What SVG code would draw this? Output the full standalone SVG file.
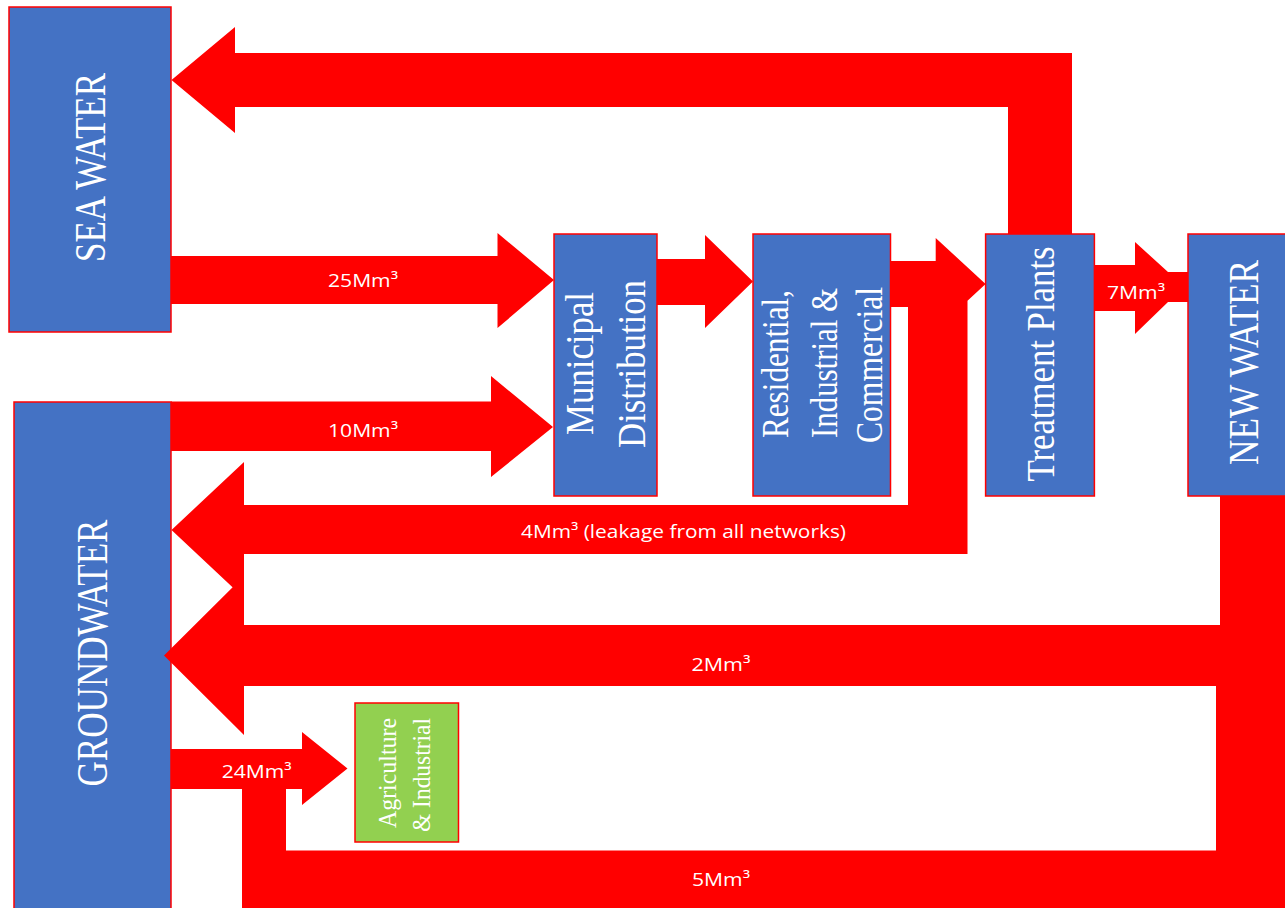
<svg xmlns="http://www.w3.org/2000/svg" width="1285" height="908" viewBox="0 0 1285 908">
<style>
.box{fill:#4472C4;stroke:#FF0000;stroke-width:1.5}
.agri{fill:#92D050;stroke:#FF0000;stroke-width:1.5}
.nt{font-family:"Liberation Serif","Times New Roman",serif;fill:#FFFFFF;text-anchor:middle}
.flow{fill:#FF0000;stroke:none}
.lbl{font-family:"Open Sans","Liberation Sans",sans-serif;font-size:19px;fill:#FFFFFF;text-anchor:middle}
</style>
<rect width="1285" height="908" fill="#FFFFFF"/>
<g id="sea-water">
<rect class="box" x="9" y="7" width="162" height="325"/>
<text class="nt" font-size="45" transform="translate(90,167.5) rotate(-90)" x="0" y="15" textLength="189" lengthAdjust="spacingAndGlyphs">SEA WATER</text>
</g>
<g id="groundwater">
<rect class="box" x="14" y="402" width="157" height="520"/>
<text class="nt" font-size="45" transform="translate(92,653) rotate(-90)" x="0" y="15" textLength="267" lengthAdjust="spacingAndGlyphs">GROUNDWATER</text>
</g>
<g id="municipal-distribution">
<rect class="box" x="554" y="234" width="103" height="262"/>
<text class="nt" font-size="40" transform="translate(593,363.5) rotate(-90)" x="0" y="0" textLength="143" lengthAdjust="spacingAndGlyphs">Municipal</text>
<text class="nt" font-size="40" transform="translate(645,364) rotate(-90)" x="0" y="0" textLength="168" lengthAdjust="spacingAndGlyphs">Distribution</text>
</g>
<g id="residential-industrial-commercial">
<rect class="box" x="753" y="234" width="137.5" height="262"/>
<text class="nt" font-size="38" transform="translate(788,364) rotate(-90)" x="0" y="0" textLength="148" lengthAdjust="spacingAndGlyphs">Residential,</text>
<text class="nt" font-size="38" transform="translate(837,363) rotate(-90)" x="0" y="0" textLength="150" lengthAdjust="spacingAndGlyphs">Industrial &amp;</text>
<text class="nt" font-size="38" transform="translate(882,365) rotate(-90)" x="0" y="0" textLength="156" lengthAdjust="spacingAndGlyphs">Commercial</text>
</g>
<g id="treatment-plants">
<rect class="box" x="985.6" y="234" width="108.8" height="262"/>
<text class="nt" font-size="40" transform="translate(1054,364) rotate(-90)" x="0" y="0" textLength="235" lengthAdjust="spacingAndGlyphs">Treatment Plants</text>
</g>
<g id="new-water">
<rect class="box" x="1188" y="234" width="112" height="262"/>
<text class="nt" font-size="42" transform="translate(1258,362.5) rotate(-90)" x="0" y="0" textLength="205" lengthAdjust="spacingAndGlyphs">NEW WATER</text>
</g>
<g id="agriculture-industrial">
<rect class="agri" x="355" y="703" width="103.5" height="139"/>
<text class="nt" font-size="25" transform="translate(396,773) rotate(-90)" x="0" y="0" textLength="110" lengthAdjust="spacingAndGlyphs">Agriculture</text>
<text class="nt" font-size="25" transform="translate(430,775) rotate(-90)" x="0" y="0" textLength="114" lengthAdjust="spacingAndGlyphs">&amp; Industrial</text>
</g>
<g id="connectors">
<path class="flow" d="M1008,234 L1072,234 L1072,53 L235,53 L235,27 L171.5,80 L235,133 L235,107 L1008,107 Z"/>
<path class="flow" d="M171,256 L497.5,256 L497.5,233 L554,280 L497.5,328 L497.5,304 L171,304 Z"/>
<path class="flow" d="M171,401.5 L491,401.5 L491,376 L553,427 L491,477 L491,451 L171,451 Z"/>
<path class="flow" d="M657,259 L705,259 L705,235 L753,281.5 L705,328 L705,305 L657,305 Z"/>
<path class="flow" d="M890,261 L935.7,261 L935.7,238 L985.6,284 L967.5,300.7 L967.5,554 L244,554 L244,598 L171.5,530 L244,462 L244,505 L908,505 L908,307 L890,307 Z"/>
<path class="flow" d="M1094,265 L1135,265 L1135,242 L1168,272 L1188,272 L1188,302 L1168,302 L1135,334 L1135,311 L1094,311 Z"/>
<path class="flow" d="M1220,496 L1300,496 L1300,910 L242,910 L242,789 L286,789 L286,850.5 L1216,850.5 L1216,686 L244,686 L244,735 L164,655.5 L244,576 L244,625 L1220,625 Z"/>
<path class="flow" d="M171,749 L302,749 L302,732 L347.5,768.5 L302,805 L302,789 L171,789 Z"/>
<text class="lbl" x="363" y="287" textLength="70" lengthAdjust="spacingAndGlyphs">25Mm³</text>
<text class="lbl" x="363" y="437" textLength="70" lengthAdjust="spacingAndGlyphs">10Mm³</text>
<text class="lbl" x="1136" y="299" textLength="58" lengthAdjust="spacingAndGlyphs">7Mm³</text>
<text class="lbl" x="683.5" y="538" textLength="325" lengthAdjust="spacingAndGlyphs">4Mm³ (leakage from all networks)</text>
<text class="lbl" x="721" y="670.5" textLength="59" lengthAdjust="spacingAndGlyphs">2Mm³</text>
<text class="lbl" x="721" y="886" textLength="58" lengthAdjust="spacingAndGlyphs">5Mm³</text>
<text class="lbl" x="256.7" y="778" textLength="70" lengthAdjust="spacingAndGlyphs">24Mm³</text>
</g>
</svg>
